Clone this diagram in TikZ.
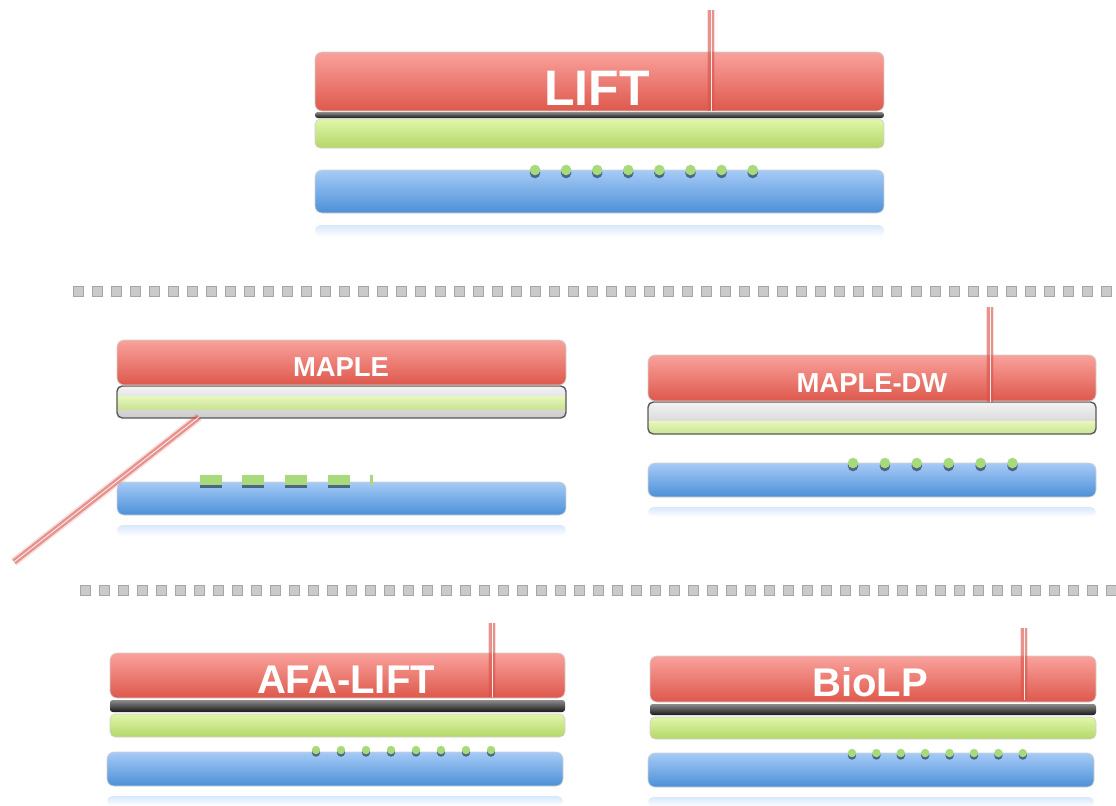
\documentclass[tikz,border=0pt]{standalone}
\usepackage{fontspec}
\setmainfont{Liberation Sans}
\definecolor{redtop}{HTML}{F9A29C}
\definecolor{redbot}{HTML}{DE584C}
\definecolor{greentop}{HTML}{E0F6AA}
\definecolor{greenbot}{HTML}{B4D768}
\definecolor{bluetop}{HTML}{A6CBF7}
\definecolor{bluebot}{HTML}{4C90D7}
\definecolor{beadgreen}{HTML}{A8DA7C}
\definecolor{beadshade}{HTML}{34475C}
\definecolor{laserred}{HTML}{D9534A}
\definecolor{sqgray}{HTML}{CACACA}
\begin{document}
\begin{tikzpicture}[x=0.02cm,y=-0.02cm,
  redbar/.style={top color=redtop,bottom color=redbot,draw=black!18,line width=.4pt,rounded corners=4pt},
  greenbar/.style={top color=greentop,bottom color=greenbot,draw=black!18,line width=.4pt,rounded corners=3pt},
  bluebar/.style={top color=bluetop,bottom color=bluebot,draw=black!18,line width=.4pt,rounded corners=4pt},
  blackbar/.style={top color=black!45,bottom color=black!90,rounded corners=1.5pt},
  graybar/.style={top color=black!5,bottom color=black!20,rounded corners=3pt},
  greenband/.style={top color=greentop!80!white,bottom color=greenbot!70!white},
  rim/.style={draw=black!65,line width=.8pt,rounded corners=3pt},
  glow/.style={top color=bluetop!45,bottom color=white,rounded corners=3pt},
  laser/.style={preaction={draw=laserred,line width=5pt,opacity=.18},
                preaction={draw=laserred,line width=3.2pt,opacity=.55},
                draw=white,line width=.45pt,draw opacity=.9},
  bead/.style={fill=beadgreen},
  beadshadow/.style={fill=beadshade,opacity=.75},
  sq/.style={fill=sqgray,draw=black!35,line width=.3pt},
  lbl/.style={text=white,font=\bfseries,anchor=base,inner sep=0pt}]
\useasboundingbox (0,0) rectangle (1116,805);

% LIFT
\shade[glow] (315,225) rectangle (884,237);
\shade[bluebar] (315,170) rectangle (884,213);
\foreach \i in {0,...,7} {
  \fill[beadshadow] (535+31.1*\i,173) circle (3pt);
  \fill[bead] (535+31.1*\i,170) circle (3pt);
}
\shade[greenbar] (315,119) rectangle (884,148);
\shade[blackbar] (315,112) rectangle (884,118);
\shade[redbar] (315,52) rectangle (884,111);
\node[lbl,font=\fontsize{28.4}{30}\selectfont\bfseries] (lift) at (597,105) {LIFT};
\draw[laser] (711,10) -- (711,111);

% separator
\foreach \i in {0,...,54}
  \filldraw[sq] (73+19.04*\i,286) rectangle +(10,10);

% MAPLE
\shade[glow] (117,525) rectangle (566,536);
\shade[bluebar] (117,482) rectangle (566,515);
\foreach \x in {200,242,285,328} {
  \fill[beadshadow] (\x,478) rectangle +(22,10);
  \fill[bead] (\x,475) rectangle +(22,10);
}
\fill[bead] (370,475) rectangle +(3,10);
\shade[graybar] (117,386) rectangle (566,418);
\begin{scope}
  \clip[rounded corners=3pt] (117,386) rectangle (566,418);
  \shade[greenband] (117,396) rectangle (566,409);
\end{scope}
\draw[rim] (117,386) rectangle (566,418);
\shade[redbar] (117,340) rectangle (566,385);
\node[lbl,font=\fontsize{15.6}{17}\selectfont\bfseries] (maple) at (341,376) {MAPLE};
\draw[laser,line cap=round] (199,417) -- (14,562);

% MAPLE-DW
\shade[glow] (648,507) rectangle (1096,517);
\shade[bluebar] (648,463) rectangle (1096,497);
\foreach \i in {0,...,5} {
  \fill[beadshadow] (853+31.9*\i,466) circle (3pt);
  \fill[bead] (853+31.9*\i,463) circle (3pt);
}
\shade[graybar] (648,402) rectangle (1096,434);
\begin{scope}
  \clip[rounded corners=3pt] (648,402) rectangle (1096,434);
  \shade[greenband] (648,421) rectangle (1096,434);
\end{scope}
\draw[rim] (648,402) rectangle (1096,434);
\shade[redbar] (648,355) rectangle (1096,401);
\node[lbl,font=\fontsize{15.6}{17}\selectfont\bfseries] (mapledw) at (872,392) {MAPLE-DW};
\draw[laser] (990,307) -- (990,402);

% separator
\foreach \i in {0,...,54}
  \filldraw[sq] (80+19*\i,585) rectangle +(10,10);

% AFA-LIFT
\shade[glow] (107,796) rectangle (563,806);
\shade[bluebar] (107,752) rectangle (563,786);
\foreach \i in {0,...,7} {
  \fill[beadshadow] (316+25*\i,752.5) circle (2.4pt);
  \fill[bead] (316+25*\i,750) circle (2.4pt);
}
\shade[greenbar] (110,714) rectangle (565,737);
\shade[blackbar] (110,700) rectangle (565,712);
\shade[redbar] (110,653) rectangle (565,698);
\node[lbl,font=\fontsize{22.8}{24}\selectfont\bfseries] (afalift) at (346,693) {AFA-LIFT};
\draw[laser] (492,623) -- (492,697);

% BioLP
\shade[glow] (648,797) rectangle (1094,807);
\shade[bluebar] (648,753) rectangle (1094,787);
\foreach \i in {0,...,7} {
  \fill[beadshadow] (852+24.4*\i,755.5) circle (2.4pt);
  \fill[bead] (852+24.4*\i,753) circle (2.4pt);
}
\shade[greenbar] (650,717) rectangle (1096,739);
\shade[blackbar] (650,704) rectangle (1096,715);
\shade[redbar] (650,656) rectangle (1096,702);
\node[lbl,font=\fontsize{22.8}{24}\selectfont\bfseries] (biolp) at (870,696) {BioLP};
\draw[laser] (1024,628) -- (1024,700);
\end{tikzpicture}
\end{document}
